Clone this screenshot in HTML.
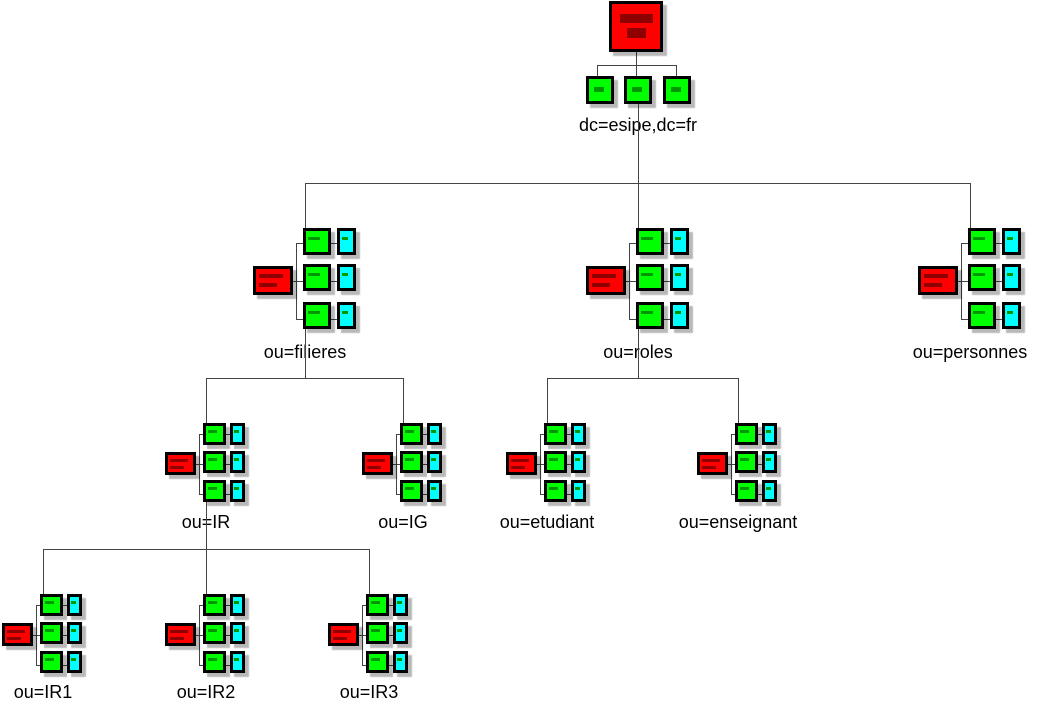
<!DOCTYPE html>
<html><head><meta charset="utf-8"><style>
*{margin:0;padding:0}
body{width:1042px;height:716px;background:#fff;position:relative;overflow:hidden;font-family:"Liberation Sans",Arial,sans-serif}
div,i,span{position:absolute;display:block}
.b{box-sizing:border-box;border:3px solid #000;box-shadow:4px 4px 1px rgba(0,0,0,.28)}
.r{background:#f00}.g{background:#0f0}.c{background:#0ff}
.r i{background:#8f0000}.g i,.c i{background:#009600}
.l{background:#444}
.t{font-size:18px;line-height:18px;width:240px;text-align:center;white-space:nowrap;color:#000}

.A .r{left:-52px;top:38px;width:40px;height:29px}
.A .r i:nth-child(1){left:3px;top:5px;width:24px;height:4px}
.A .r i:nth-child(2){left:3px;top:14px;width:18px;height:4px}
.A .g{left:-2px;width:28px;height:27px}
.A .c{left:32px;width:19px;height:27px}
.A .g i{left:2px;top:6px;width:12px;height:3px}
.A .c i{left:2px;top:6px;width:6px;height:3px}
.A .k1{top:0}.A .k2{top:36px}.A .k3{top:74px}
.A .bus{left:-9px;top:15px;width:1px;height:77px}
.A .s{left:-9px;width:7px;height:1px}
.A .gc{left:26px;width:6px;height:1px}
.A .y1{top:15px}.A .y2{top:53px}.A .y3{top:91px}
.A .rs{left:-12px;top:53px;width:3px;height:1px}
.A .up{left:0;top:-45px;width:1px;height:45px}

.B .r{left:-41px;top:29px;width:31px;height:23px}
.B .r i:nth-child(1){left:2px;top:4px;width:18px;height:3px}
.B .r i:nth-child(2){left:2px;top:11px;width:14px;height:3px}
.B .g{left:-3px;width:23px;height:22px}
.B .c{left:24px;width:15px;height:22px}
.B .g i{left:2px;top:4px;width:9px;height:3px}
.B .c i{left:1px;top:4px;width:5px;height:3px}
.B .k1{top:0}.B .k2{top:28px}.B .k3{top:57px}
.B .bus{left:-7px;top:11px;width:1px;height:61px}
.B .s{left:-7px;width:4px;height:1px}
.B .gc{left:20px;width:4px;height:1px}
.B .y1{top:11px}.B .y2{top:41px}.B .y3{top:71px}
.B .rs{left:-10px;top:41px;width:3px;height:1px}
.B .up{left:0;top:-45px;width:1px;height:45px}
</style></head><body>

<!-- root -->
<div class="l" style="left:636px;top:52px;width:1px;height:13px"></div>
<div class="l" style="left:597px;top:65px;width:80px;height:1px"></div>
<div class="l" style="left:597px;top:65px;width:1px;height:11px"></div>
<div class="l" style="left:636px;top:65px;width:1px;height:11px"></div>
<div class="l" style="left:676px;top:65px;width:1px;height:11px"></div>
<div class="b r" style="left:609px;top:1px;width:54px;height:51px"><i style="left:8px;top:10px;width:33px;height:9px"></i><i style="left:15px;top:24px;width:19px;height:10px"></i></div>
<div class="b g" style="left:586px;top:76px;width:28px;height:28px"><i style="left:5px;top:8px;width:10px;height:5px"></i></div>
<div class="b g" style="left:624px;top:76px;width:28px;height:28px"><i style="left:5px;top:8px;width:10px;height:5px"></i></div>
<div class="b g" style="left:663px;top:76px;width:28px;height:28px"><i style="left:5px;top:8px;width:10px;height:5px"></i></div>

<!-- horizontal connectors -->
<div class="l" style="left:305px;top:183px;width:666px;height:1px"></div>
<div class="l" style="left:206px;top:378px;width:198px;height:1px"></div>
<div class="l" style="left:547px;top:378px;width:192px;height:1px"></div>
<div class="l" style="left:43px;top:549px;width:327px;height:1px"></div>

<!-- level 1 -->
<div class="w A" style="left:305px;top:228px">
<div class="l up"></div><div class="l bus"></div>
<div class="l s y1"></div><div class="l s y2"></div><div class="l s y3"></div>
<div class="l gc y1"></div><div class="l gc y2"></div><div class="l gc y3"></div>
<div class="l rs"></div>
<div class="b r"><i></i><i></i></div>
<div class="b g k1"><i></i></div><div class="b g k2"><i></i></div><div class="b g k3"><i></i></div>
<div class="b c k1"><i></i></div><div class="b c k2"><i></i></div><div class="b c k3"><i></i></div>
</div>
<div class="w A" style="left:638px;top:228px">
<div class="l up"></div><div class="l bus"></div>
<div class="l s y1"></div><div class="l s y2"></div><div class="l s y3"></div>
<div class="l gc y1"></div><div class="l gc y2"></div><div class="l gc y3"></div>
<div class="l rs"></div>
<div class="b r"><i></i><i></i></div>
<div class="b g k1"><i></i></div><div class="b g k2"><i></i></div><div class="b g k3"><i></i></div>
<div class="b c k1"><i></i></div><div class="b c k2"><i></i></div><div class="b c k3"><i></i></div>
</div>
<div class="w A" style="left:970px;top:228px">
<div class="l up"></div><div class="l bus"></div>
<div class="l s y1"></div><div class="l s y2"></div><div class="l s y3"></div>
<div class="l gc y1"></div><div class="l gc y2"></div><div class="l gc y3"></div>
<div class="l rs"></div>
<div class="b r"><i></i><i></i></div>
<div class="b g k1"><i></i></div><div class="b g k2"><i></i></div><div class="b g k3"><i></i></div>
<div class="b c k1"><i></i></div><div class="b c k2"><i></i></div><div class="b c k3"><i></i></div>
</div>

<!-- level 2 -->
<div class="w B" style="left:206px;top:423px">
<div class="l up"></div><div class="l bus"></div>
<div class="l s y1"></div><div class="l s y2"></div><div class="l s y3"></div>
<div class="l gc y1"></div><div class="l gc y2"></div><div class="l gc y3"></div>
<div class="l rs"></div>
<div class="b r"><i></i><i></i></div>
<div class="b g k1"><i></i></div><div class="b g k2"><i></i></div><div class="b g k3"><i></i></div>
<div class="b c k1"><i></i></div><div class="b c k2"><i></i></div><div class="b c k3"><i></i></div>
</div>
<div class="w B" style="left:403px;top:423px">
<div class="l up"></div><div class="l bus"></div>
<div class="l s y1"></div><div class="l s y2"></div><div class="l s y3"></div>
<div class="l gc y1"></div><div class="l gc y2"></div><div class="l gc y3"></div>
<div class="l rs"></div>
<div class="b r"><i></i><i></i></div>
<div class="b g k1"><i></i></div><div class="b g k2"><i></i></div><div class="b g k3"><i></i></div>
<div class="b c k1"><i></i></div><div class="b c k2"><i></i></div><div class="b c k3"><i></i></div>
</div>
<div class="w B" style="left:547px;top:423px">
<div class="l up"></div><div class="l bus"></div>
<div class="l s y1"></div><div class="l s y2"></div><div class="l s y3"></div>
<div class="l gc y1"></div><div class="l gc y2"></div><div class="l gc y3"></div>
<div class="l rs"></div>
<div class="b r"><i></i><i></i></div>
<div class="b g k1"><i></i></div><div class="b g k2"><i></i></div><div class="b g k3"><i></i></div>
<div class="b c k1"><i></i></div><div class="b c k2"><i></i></div><div class="b c k3"><i></i></div>
</div>
<div class="w B" style="left:738px;top:423px">
<div class="l up"></div><div class="l bus"></div>
<div class="l s y1"></div><div class="l s y2"></div><div class="l s y3"></div>
<div class="l gc y1"></div><div class="l gc y2"></div><div class="l gc y3"></div>
<div class="l rs"></div>
<div class="b r"><i></i><i></i></div>
<div class="b g k1"><i></i></div><div class="b g k2"><i></i></div><div class="b g k3"><i></i></div>
<div class="b c k1"><i></i></div><div class="b c k2"><i></i></div><div class="b c k3"><i></i></div>
</div>

<!-- level 3 -->
<div class="w B" style="left:43px;top:594px">
<div class="l up"></div><div class="l bus"></div>
<div class="l s y1"></div><div class="l s y2"></div><div class="l s y3"></div>
<div class="l gc y1"></div><div class="l gc y2"></div><div class="l gc y3"></div>
<div class="l rs"></div>
<div class="b r"><i></i><i></i></div>
<div class="b g k1"><i></i></div><div class="b g k2"><i></i></div><div class="b g k3"><i></i></div>
<div class="b c k1"><i></i></div><div class="b c k2"><i></i></div><div class="b c k3"><i></i></div>
</div>
<div class="w B" style="left:206px;top:594px">
<div class="l up"></div><div class="l bus"></div>
<div class="l s y1"></div><div class="l s y2"></div><div class="l s y3"></div>
<div class="l gc y1"></div><div class="l gc y2"></div><div class="l gc y3"></div>
<div class="l rs"></div>
<div class="b r"><i></i><i></i></div>
<div class="b g k1"><i></i></div><div class="b g k2"><i></i></div><div class="b g k3"><i></i></div>
<div class="b c k1"><i></i></div><div class="b c k2"><i></i></div><div class="b c k3"><i></i></div>
</div>
<div class="w B" style="left:369px;top:594px">
<div class="l up"></div><div class="l bus"></div>
<div class="l s y1"></div><div class="l s y2"></div><div class="l s y3"></div>
<div class="l gc y1"></div><div class="l gc y2"></div><div class="l gc y3"></div>
<div class="l rs"></div>
<div class="b r"><i></i><i></i></div>
<div class="b g k1"><i></i></div><div class="b g k2"><i></i></div><div class="b g k3"><i></i></div>
<div class="b c k1"><i></i></div><div class="b c k2"><i></i></div><div class="b c k3"><i></i></div>
</div>

<!-- labels -->
<span class="t" style="left:518px;top:116px">dc=esipe,dc=fr</span>
<span class="t" style="left:185px;top:343px">ou=filieres</span>
<span class="t" style="left:518px;top:343px">ou=roles</span>
<span class="t" style="left:850px;top:343px">ou=personnes</span>
<span class="t" style="left:86px;top:513px">ou=IR</span>
<span class="t" style="left:283px;top:513px">ou=IG</span>
<span class="t" style="left:427px;top:513px">ou=etudiant</span>
<span class="t" style="left:618px;top:513px">ou=enseignant</span>
<span class="t" style="left:-77px;top:683px">ou=IR1</span>
<span class="t" style="left:86px;top:683px">ou=IR2</span>
<span class="t" style="left:249px;top:683px">ou=IR3</span>

<!-- lines crossing labels -->
<div class="l" style="left:638px;top:104px;width:1px;height:79px"></div>
<div class="l" style="left:305px;top:329px;width:1px;height:49px"></div>
<div class="l" style="left:638px;top:329px;width:1px;height:49px"></div>
<div class="l" style="left:206px;top:502px;width:1px;height:47px"></div>

</body></html>
